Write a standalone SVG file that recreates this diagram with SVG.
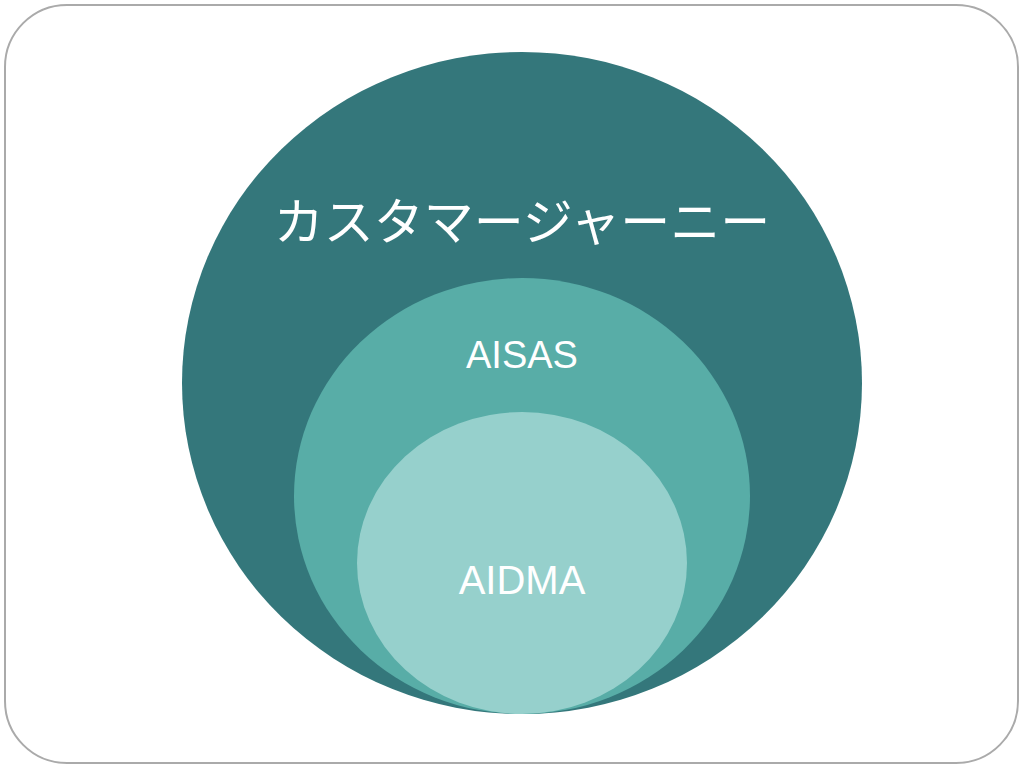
<svg xmlns="http://www.w3.org/2000/svg" width="1024" height="768" viewBox="0 0 1024 768">
<style>
text{fill:#fff;font-family:"Liberation Sans","Noto Sans CJK JP",sans-serif;text-anchor:middle}
</style>
<rect x="5" y="5" width="1013" height="758" rx="62" fill="#fff" stroke="#aaa" stroke-width="2"/>
<g id="journey"><ellipse cx="522" cy="383" rx="340" ry="331" fill="#34777b"/>
<text x="522" y="240" font-size="50">カスタマージャーニー</text></g>
<g id="aisas"><ellipse cx="522" cy="496" rx="228" ry="218" fill="#58ada7"/>
<text x="522" y="368" font-size="38">AISAS</text></g>
<g id="aidma"><ellipse cx="522" cy="563" rx="165" ry="151" fill="#96d0cc"/>
<text x="522" y="594" font-size="40">AIDMA</text></g>
<g id="connectors"/>
</svg>
